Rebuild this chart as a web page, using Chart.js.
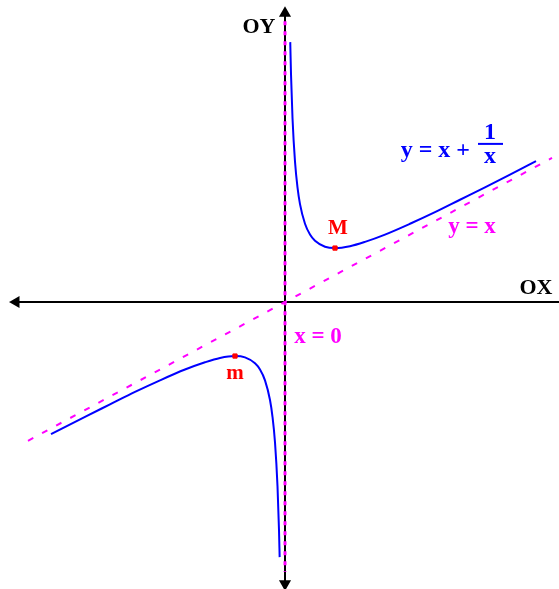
<!DOCTYPE html>
<html>
<head>
<meta charset="utf-8">
<script src="https://cdn.jsdelivr.net/npm/chart.js@4"></script>
<style>
  body { margin: 0; background: #fff; }
  #wrap { width: 559px; height: 589px; }
</style>
</head>
<body>
<div id="wrap"><canvas id="graph"></canvas></div>
<script>
// curve y = x + 1/x
const rightX = [0.105, 0.12, 0.15, 0.2, 0.25, 0.3, 0.4, 0.5, 0.6, 0.8, 1, 1.3, 1.6, 2, 2.5, 3, 3.5, 4, 4.5, 5.02];
const rightY = [9.63, 8.45, 6.82, 5.2, 4.25, 3.63, 2.9, 2.5, 2.27, 2.05, 2, 2.07, 2.23, 2.5, 2.9, 3.33, 3.79, 4.25, 4.72, 5.22];
const leftX = [-4.68, -4, -3.5, -3, -2.5, -2, -1.6, -1.3, -1, -0.8, -0.6, -0.5, -0.4, -0.3, -0.25, -0.2, -0.15, -0.12, -0.107];
const leftY = [-4.89, -4.25, -3.79, -3.33, -2.9, -2.5, -2.23, -2.07, -2, -2.05, -2.27, -2.5, -2.9, -3.63, -4.25, -5.2, -6.82, -8.45, -9.45];

// extremum points M(1, 2) and m(-1, -2)
const extremaX = [1, -1];
const extremaY = [2, -2];

// asymptotes y = x and x = 0
const slantX = [-5.14, 5.34];
const slantY = [-5.14, 5.34];
const vertX = [0, 0];
const vertY = [10.4, -10.0];

// coordinate axes
const axisXx = [-5.38, 5.7];
const axisXy = [0, 0];
const axisYx = [0, 0];
const axisYy = [10.7, -10.44];

const toPts = (xs, ys) => xs.map((x, i) => ({ x: x, y: ys[i] }));

const BLUE = '#0000ff';
const MAGENTA = '#ff00ff';
const RED = '#ff0000';

// text labels placed in data coordinates
const labels = [
  { text: 'OY', x: -0.52, y: 10.18, color: '#000', size: 22 },
  { text: 'OX', x: 5.02, y: 0.52, color: '#000', size: 22 },
  { text: 'M', x: 1.06, y: 2.74, color: RED, size: 21 },
  { text: 'm', x: -1.0, y: -2.65, color: RED, size: 21 },
  { text: 'x = 0', x: 0.66, y: -1.3, color: MAGENTA, size: 23 },
  { text: 'y = x', x: 3.74, y: 2.76, color: MAGENTA, size: 23 }
];

const textPlugin = {
  id: 'textPlugin',
  afterDatasetsDraw(chart) {
    const ctx = chart.ctx;
    const sx = chart.scales.x, sy = chart.scales.y;
    ctx.save();
    ctx.textAlign = 'center';
    ctx.textBaseline = 'middle';
    labels.forEach(l => {
      ctx.fillStyle = l.color;
      ctx.font = 'bold ' + l.size + 'px "Liberation Serif", serif';
      ctx.fillText(l.text, sx.getPixelForValue(l.x), sy.getPixelForValue(l.y));
    });
    // formula label y = x + 1/x
    const fx = sx.getPixelForValue(3.7), fy = sy.getPixelForValue(5.6);
    ctx.fillStyle = BLUE;
    ctx.font = 'bold 24px "Liberation Serif", serif';
    ctx.textAlign = 'right';
    ctx.fillText('y = x +', fx, fy);
    ctx.textAlign = 'center';
    ctx.fillText('1', fx + 20, fy - 18);
    ctx.fillText('x', fx + 20, fy + 6);
    ctx.fillRect(fx + 8, fy - 8, 25, 2);
    ctx.restore();
  }
};

new Chart(document.getElementById('graph'), {
  type: 'scatter',
  data: {
    datasets: [
      {
        data: toPts(extremaX, extremaY),
        backgroundColor: RED,
        borderColor: RED,
        pointStyle: 'rect',
        pointRadius: 3,
        order: 0
      },
      {
        data: toPts(rightX, rightY),
        showLine: true,
        borderColor: BLUE,
        borderWidth: 2,
        pointRadius: 0,
        cubicInterpolationMode: 'monotone',
        order: 1
      },
      {
        data: toPts(leftX, leftY),
        showLine: true,
        borderColor: BLUE,
        borderWidth: 2,
        pointRadius: 0,
        cubicInterpolationMode: 'monotone',
        order: 1
      },
      {
        data: toPts(slantX, slantY),
        showLine: true,
        borderColor: MAGENTA,
        borderWidth: 2,
        borderDash: [6, 10],
        pointRadius: 0,
        order: 2
      },
      {
        data: toPts(vertX, vertY),
        showLine: true,
        borderColor: MAGENTA,
        borderWidth: 3,
        borderDash: [4, 6],
        pointRadius: 0,
        order: 2
      },
      {
        data: toPts(axisXx, axisXy),
        showLine: true,
        borderColor: '#000',
        borderWidth: 2,
        backgroundColor: '#000',
        pointStyle: 'triangle',
        pointRadius: [5, 0],
        rotation: [-90, 0],
        order: 3
      },
      {
        data: toPts(axisYx, axisYy),
        showLine: true,
        borderColor: '#000',
        borderWidth: 2,
        backgroundColor: '#000',
        pointStyle: 'triangle',
        pointRadius: [5, 5],
        rotation: [0, 180],
        order: 3
      }
    ]
  },
  options: {
    responsive: true,
    maintainAspectRatio: false,
    animation: false,
    layout: { padding: 0, autoPadding: false },
    plugins: {
      legend: { display: false },
      tooltip: { enabled: false }
    },
    scales: {
      x: { type: 'linear', min: -5.7, max: 5.48, display: false },
      y: { type: 'linear', min: -10.63, max: 11.19, display: false }
    }
  },
  plugins: [textPlugin]
});
</script>
</body>
</html>
